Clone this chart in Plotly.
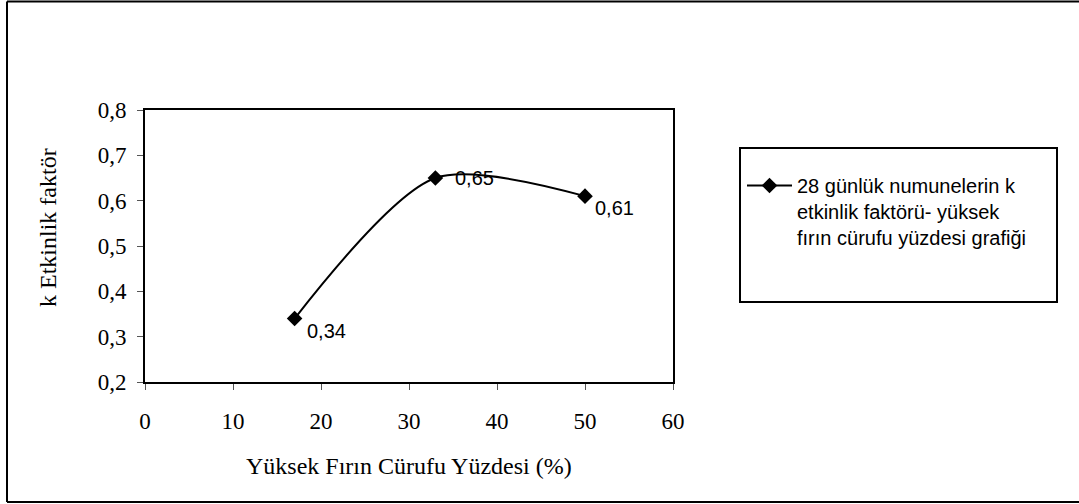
import plotly.graph_objects as go

# Data
slag_pct = [17, 33, 50]
k_factor = [0.34, 0.65, 0.61]
x_ticks = [0, 10, 20, 30, 40, 50, 60]
y_ticks = [0.2, 0.3, 0.4, 0.5, 0.6, 0.7, 0.8]
series_name = "28 günlük numunelerin k<br>etkinlik faktörü- yüksek<br>fırın cürufu yüzdesi grafiği"
x_title = "Yüksek Fırın Cürufu Yüzdesi (%)"
y_title = "k Etkinlik faktör"

labels = [f"{v:.2f}".replace(".", ",") for v in k_factor]
label_shift = [(10, -12), (18, 0), (8, -12)]

L, R, T, B = 145, 673, 110, 382
W, H = 1079, 504
pw, ph = R - L, B - T

def px(xp):
    return (xp - L) / pw

def py(yp):
    return (B - yp) / ph

fig = go.Figure()
fig.add_trace(go.Scatter(
    x=slag_pct, y=k_factor, mode="lines+markers",
    line=dict(color="black", width=2, shape="spline", smoothing=0.8),
    marker=dict(symbol="diamond", size=12, color="black"),
    name=series_name, showlegend=True, cliponaxis=False,
))

serif = "Liberation Serif, Times New Roman"
annots = [
    dict(text=x_title, xref="paper", yref="paper", x=px(409), y=py(466),
         showarrow=False, xanchor="center", yanchor="middle",
         font=dict(family=serif, size=24, color="black")),
    dict(text=y_title, xref="paper", yref="paper", x=px(48), y=py(228),
         showarrow=False, xanchor="center", yanchor="middle", textangle=-90,
         font=dict(family=serif, size=24, color="black")),
]
for xv, yv, t, (dx, dy) in zip(slag_pct, k_factor, labels, label_shift):
    annots.append(dict(text=t, x=xv, y=yv, xref="x", yref="y", showarrow=False,
                       xanchor="left", yanchor="middle", xshift=dx, yshift=dy,
                       font=dict(family="Liberation Sans, Arial", size=20, color="black")))

border = dict(color="black", width=2)
fig.update_layout(
    width=W, height=H,
    margin=dict(l=L, r=W - R, t=T, b=H - B, autoexpand=False),
    paper_bgcolor="white", plot_bgcolor="white",
    separators=", ",
    xaxis=dict(range=[0, 60], tickvals=x_ticks, ticks="outside", ticklen=6,
               tickcolor="#555", showline=True, linecolor="black", linewidth=2,
               mirror=True, showgrid=False, zeroline=False,
               tickfont=dict(family=serif, size=23, color="black"),
               ticklabelstandoff=11),
    yaxis=dict(range=[0.2, 0.8], tickvals=y_ticks, tickformat=".1f", ticks="outside",
               ticklen=6, tickcolor="#555", showline=True, linecolor="black",
               linewidth=2, mirror=True, showgrid=False, zeroline=False,
               tickfont=dict(family=serif, size=23, color="black"),
               ticklabelstandoff=6),
    legend=dict(x=px(742), y=py(166), xanchor="left", yanchor="top",
                bgcolor="rgba(0,0,0,0)", borderwidth=0, valign="top",
                itemwidth=45,
                font=dict(family="Liberation Sans, Arial", size=20, color="black"),
                tracegroupgap=0),
    annotations=annots,
    shapes=[
        dict(type="rect", xref="paper", yref="paper",
             x0=px(740), x1=px(1057), y0=py(302), y1=py(148),
             line=border, fillcolor="rgba(0,0,0,0)"),
        dict(type="line", xref="paper", yref="paper",
             x0=px(7), x1=px(7), y0=py(502), y1=py(1.5), line=border),
        dict(type="line", xref="paper", yref="paper",
             x0=px(7), x1=px(1079), y0=py(1.5), y1=py(1.5), line=border),
        dict(type="line", xref="paper", yref="paper",
             x0=px(7), x1=px(1079), y0=py(502), y1=py(502), line=border),
    ],
)

fig.write_html("out.html")
